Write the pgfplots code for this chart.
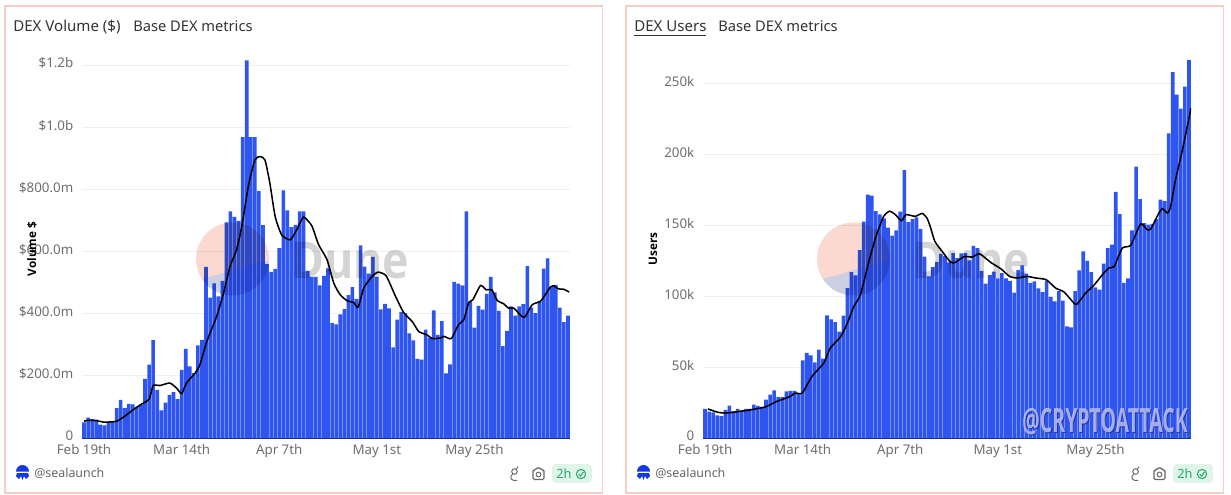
\documentclass[border=0pt]{standalone}
\usepackage{fontspec}
\setmainfont{Noto Sans}
\newfontfamily\heavyfont{Open Sans}
\usepackage{pgfplots}
\pgfplotsset{compat=1.18}

\definecolor{framec}{HTML}{F5CFC6}
\definecolor{titlec}{HTML}{333333}
\definecolor{tickc}{HTML}{6E6E6E}
\definecolor{gridc}{HTML}{EFEFEF}
\definecolor{barc}{HTML}{2F55F0}
\definecolor{basec}{HTML}{1C2F8F}
\definecolor{greenc}{HTML}{2BA86A}
\definecolor{badgec}{HTML}{E0F5EA}
\definecolor{logoc}{HTML}{1238E0}
\definecolor{wmpink}{HTML}{FBD8D0}
\definecolor{wmslate}{HTML}{CBD0E2}
\definecolor{wmgrey}{HTML}{D4D4D4}

% everything around the axes is placed in image pixels
\pgfplotsset{dunepanel/.style={
    scale only axis,
    anchor=south west,
    width=366pt,
    xmin=-0.5, xmax=119.5,
    ymin=0,
    axis line style={draw=none},
    tick style={draw=none},
    ymajorgrids,
    grid style={gridc, line width=0.7pt},
    xtick={0,24,48,72,96},
    xticklabels={Feb 19th,Mar 14th,Apr 7th,May 1st,May 25th},
    tick label style={font=\fontsize{10}{12}\selectfont, text=tickc},
    xticklabel style={yshift=-1.5pt},
    yticklabel style={yshift=1.5pt, xshift=-3pt},
}}
\pgfplotsset{dunebars/.style={ybar, bar width=2.7pt, bar shift=0pt, draw=none, fill=barc}}
\pgfplotsset{duneline/.style={black, line width=1.15pt, smooth, tension=0.35, no markers}}

\newcommand{\panelback}[3]{%
  % frame, subtitle, footer; #1 pixel shift
  \begin{scope}[x=0.75pt, y=-0.75pt, shift={(#1,0)}]
    \draw[framec, line width=0.9pt] (5,6) rectangle (602.5,493);
    \node[anchor=base west, inner sep=0pt, text=titlec, font=\fontsize{11}{13}\selectfont] at (#2,31) {#3};
    % footer
    \fill[logoc] (16,471.5) arc (180:360:6.5) -- cycle;
    \fill[logoc] (17,473) -- (28,473) -- (29,476) -- (26,479) -- (24,476) -- (22.5,480) -- (21,476) -- (19,479) -- (16,476) -- cycle;
    \node[anchor=base west, inner sep=0pt, text=black!60, font=\fontsize{9.3}{11}\selectfont] at (34,477) {@sealaunch};
    \draw[black!60, line width=0.7pt] (514.5,471.5) circle (2.8) (516.5,469) -- (518,466.5) (512.5,474) .. controls (509,478) and (511,481) .. (517,480.5);
    \draw[black!60, line width=0.8pt, rounded corners=1pt] (533,470) -- (535.5,470) -- (536.5,468) -- (540.5,468) -- (541.5,470) -- (544,470) -- (544,479.5) -- (533,479.5) -- cycle;
    \draw[black!60, line width=0.7pt] (538.5,474.5) circle (2.4);
    \fill[badgec, rounded corners=3pt] (552,464) rectangle (592,483);
    \node[anchor=base west, inner sep=0pt, text=greenc, font=\fontsize{9.6}{11}\selectfont] at (556,478) {2h};
    \draw[greenc, line width=0.8pt] (581,474) circle (4.6);
    \draw[greenc, line width=0.8pt] (578.8,474) -- (580.5,476) -- (583.5,472);
  \end{scope}
}

\newcommand{\duneback}[1]{%
  % logo and name, multiplied over the bars
  \begin{scope}[x=0.75pt, y=-0.75pt, shift={(#1,0)}, blend mode=multiply]
    \begin{scope}
      \clip (232.5,259) circle (36.5);
      \fill[wmpink] (190,200) -- (280,200) -- (280,260) .. controls (245,262) and (225,276) .. (190,281) -- cycle;
      \fill[wmslate] (190,300) -- (190,281) .. controls (225,276) and (245,262) .. (280,260) -- (280,300) -- cycle;
    \end{scope}
    \node[anchor=base west, inner sep=0pt, xscale=0.88, text=wmgrey, font=\fontsize{38}{40}\heavyfont\bfseries\selectfont] at (291,278) {Dune};
  \end{scope}
}

\begin{document}
\begin{tikzpicture}
  \path[use as bounding box] (0,0) rectangle (923.25pt,-370.5pt);
  \fill[white] (0,0) rectangle (923.25pt,-370.5pt);
  \panelback{0}{133}{Base DEX metrics}
  \panelback{621}{97}{Base DEX metrics}

  \begin{scope}[x=0.75pt, y=-0.75pt]
    \node[anchor=base west, inner sep=0pt, text=titlec, font=\fontsize{11.3}{13}\selectfont] at (13,31) {DEX Volume (\$)};
    \node[anchor=base west, inner sep=0pt, text=titlec, font=\fontsize{11.3}{13}\selectfont] at (634,31) {DEX Users};
    \draw[titlec, line width=0.7pt] (634,35) -- (706,35);
  \end{scope}

  % DEX volume, $m per day
  \begin{axis}[dunepanel,
      at={(61.5pt,-328.5pt)},
      height=291.2pt,
      ymax=1250,
      ytick={0,200,400,600,800,1000,1200},
      yticklabels={0,\$200.0m,\$400.0m,\$600.0m,\$800.0m,\$1.0b,\$1.2b}]
    \addplot[dunebars] coordinates {
      (0,50)(1,66)(2,61)(3,59)(4,43)(5,41)(6,50)(7,53)(8,96)(9,123)
      (10,96)(11,110)(12,108)(13,100)(14,107)(15,190)(16,236)(17,315)(18,155)(19,89)
      (20,114)(21,139)(22,148)(23,125)(24,219)(25,287)(26,231)(27,209)(28,298)(29,316)
      (30,551)(31,452)(32,498)(33,456)(34,506)(35,694)(36,730)(37,712)(38,699)(39,969)
      (40,1216)(41,969)(42,969)(43,795)(44,685)(45,560)(46,535)(47,544)(48,611)(49,797)
      (50,733)(51,679)(52,686)(53,730)(54,730)(55,538)(56,519)(57,519)(58,491)(59,522)
      (60,546)(61,370)(62,366)(63,398)(64,415)(65,460)(66,486)(67,448)(68,620)(69,552)
      (70,529)(71,583)(72,518)(73,414)(74,432)(75,417)(76,292)(77,381)(78,406)(79,402)
      (80,337)(81,314)(82,255)(83,252)(84,349)(85,322)(86,411)(87,332)(88,376)(89,208)
      (90,237)(91,503)(92,497)(93,491)(94,730)(95,440)(96,355)(97,425)(98,413)(99,464)
      (100,519)(101,469)(102,409)(103,296)(104,345)(105,424)(106,394)(107,424)(108,431)(109,553)
      (110,420)(111,402)(112,440)(113,545)(114,578)(115,488)(116,493)(117,420)(118,373)(119,394)
    };
    \addplot[duneline] coordinates {
      (0,54)(1,57)(3,56)(5,51)(8,54)(10,70)(12,90)(14,108)(16,125)(17,169)(18.7,169)(21.1,177)
      (22.8,160)(24,143)(25.2,177)(27.3,209)(28.5,236)(30.2,311)(32.6,391)(34.3,466)(35.9,552)
      (37.5,606)(38.8,681)(40.4,810)(42,895)(43.3,906)(44.5,895)(45.7,820)(47,713)(48.6,654)
      (50.7,638)(52.3,670)(53.9,711)(55.2,697)(56.1,681)(57.7,622)(59.75,574)(61.4,499)(63,461)
      (64.7,442)(66.3,436)(67.4,421)(68.8,483)(70.8,520)(72.3,534)(74.3,522)(76.6,456)(78.6,404)
      (80.7,375)(82.3,343)(84.3,332)(85.7,320)(87.6,322)(88.6,327)(90.3,320)(92.1,365)(93.4,381)
      (94.6,436)(95.6,445)(97.5,491)(98.9,477)(100.3,477)(101.6,443)(103.2,432)(104.4,418)
      (105.7,418)(107.7,391)(108.5,391)(110.2,429)(112.2,440)(113.4,461)(114.7,486)(115.5,490)
      (116.7,480)(117.9,479)(119.3,470)
    };
    \draw[basec, line width=0.6pt] (axis cs:-0.5,0) -- (axis cs:119.5,0);
  \end{axis}

  % DEX users, thousands per day
  \begin{axis}[dunepanel,
      at={(527.25pt,-328.5pt)},
      height=287pt,
      ymax=270,
      ytick={0,50,100,150,200,250},
      yticklabels={0,50k,100k,150k,200k,250k}]
    \addplot[dunebars] coordinates {
      (0,20.5)(1,18.6)(2,18.1)(3,16)(4,15.5)(5,19.8)(6,22.8)(7,18.8)(8,20.5)(9,19.5)
      (10,20.5)(11,20.5)(12,23.5)(13,22.6)(14,21.9)(15,27)(16,30.6)(17,33.6)(18,28.9)(19,28.9)
      (20,32.9)(21,33.2)(22,33.2)(23,31)(24,54.8)(25,60)(26,58.3)(27,53.4)(28,62.3)(29,56)
      (30,86.5)(31,83.7)(32,81.8)(33,75)(34,86.3)(35,105.8)(36,117)(37,114.8)(38,132.6)(39,152.6)
      (40,171.7)(41,171)(42,160)(43,157.8)(44,155)(45,148.4)(46,142.8)(47,146.5)(48,159.7)(49,189)
      (50,152.4)(51,154.5)(52,155.7)(53,147.5)(54,128)(55,114)(56,120.6)(57,124.2)(58,130)(59,128.4)
      (60,124)(61,130.5)(62,127)(63,130.3)(64,130.5)(65,125.4)(66,135.5)(67,134)(68,118)(69,108.9)
      (70,115)(71,117.4)(72,112.7)(73,116.4)(74,112.7)(75,110.8)(76,102.5)(77,118.5)(78,121.8)(79,116)
      (80,109.4)(81,110.5)(82,105.6)(83,103)(84,111)(85,99.5)(86,96.4)(87,103.7)(88,97)(89,78.8)
      (90,78)(91,103.7)(92,118.3)(93,131.7)(94,124.9)(95,117)(96,106.3)(97,104.7)(98,123)(99,134)
      (100,136.4)(101,173.6)(102,158)(103,109.4)(104,112.7)(105,146.5)(106,191.4)(107,168.6)(108,151.7)(109,150.5)
      (110,151)(111,154.5)(112,168.2)(113,167.2)(114,215)(115,258.2)(116,242.2)(117,232.4)(118,247.9)(119,266.7)
    };
    \addplot[duneline] coordinates {
      (0.7,20.5)(3,18.3)(5,17.6)(9.9,19.3)(14.8,21.9)(17.7,25.9)(20.6,28.9)(22.2,31.7)(23.9,31.7)
      (26.3,43.5)(29.2,52.9)(30.8,63.5)(33.3,71.3)(35,81)(36.6,92.9)(38.2,101)(40.2,123.5)(41.9,141)
      (43.9,156.4)(45.4,160)(46.8,157.6)(48.3,153.3)(49.4,157.6)(51.7,156.4)(53.4,158.5)(54.6,155)
      (55.4,149)(56.5,138.8)(58.3,131.7)(60.4,124)(61.6,124)(63.7,128)(65.7,127.7)(67.5,130)(70.2,124)
      (72.7,119.5)(74.9,114)(76.8,112.9)(79.2,114)(81.3,112.9)(83.9,111.7)(86.2,105.8)(88.3,103)
      (90.7,95.2)(91.5,94.5)(93.6,102.3)(95.6,107.7)(97.7,115.2)(99.3,120)(100.6,121)(102.6,134)
      (104.7,136)(107.1,151)(108.7,147)(109.6,147.5)(111.6,158.7)(112.5,161.8)(113.7,158.7)(114.5,163.4)
      (115.7,182.3)(117.4,203.4)(119.5,232.8)
    };
    \draw[basec, line width=0.6pt] (axis cs:-0.5,0) -- (axis cs:119.5,0);
  \end{axis}

  \duneback{0}
  \duneback{621}

  \begin{scope}[x=0.75pt, y=-0.75pt]
    \node[rotate=90, inner sep=0pt, text=black, font=\fontsize{8.8}{11}\heavyfont\bfseries\selectfont] at (32,249) {Volume \$};
    \node[rotate=90, inner sep=0pt, text=black, font=\fontsize{8.8}{11}\heavyfont\bfseries\selectfont] at (653,249) {Users};
    \node[anchor=base east, inner sep=0pt, xscale=0.585, text=basec, text opacity=0.8, font=\fontsize{25}{27}\heavyfont\bfseries\selectfont] at (1189,433) {@CRYPTOATTACK};
    \node[anchor=base east, inner sep=0pt, xscale=0.585, text=blue!18!white, text opacity=0.75, font=\fontsize{25}{27}\heavyfont\bfseries\selectfont] at (1188,432) {@CRYPTOATTACK};
  \end{scope}
\end{tikzpicture}
\end{document}
